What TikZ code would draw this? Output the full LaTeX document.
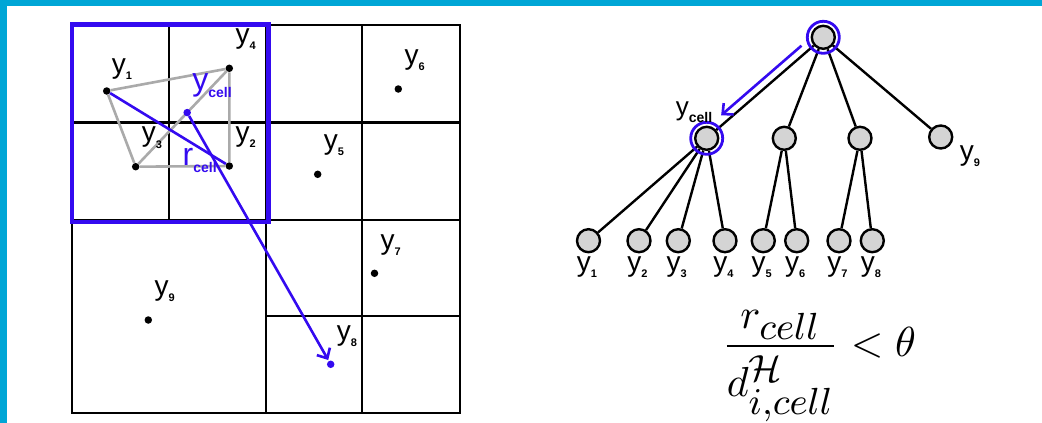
\documentclass[tikz,border=0pt]{standalone}
\usepackage{fontspec}
\setsansfont{Liberation Sans}
\usepackage{graphicx}
\usetikzlibrary{positioning,arrows.meta,calc}
\DeclareMathSizes{10}{10}{9}{7}
\definecolor{frame}{RGB}{0,166,214}
\definecolor{vio}{RGB}{52,10,240}
\definecolor{lgray}{RGB}{170,170,170}
\definecolor{nodegray}{RGB}{212,212,212}
\newcommand{\yl}[1]{y\raisebox{-6.5pt}{\fontsize{11}{11}\selectfont\bfseries #1}}
\newcommand{\yc}[1]{#1\raisebox{-7pt}{\fontsize{14}{14}\selectfont\bfseries cell}}
\tikzset{
  cellline/.style={line width=2.8pt, draw=black},
  bluebox/.style={line width=4.8pt, draw=vio},
  ptdot/.style={circle, fill=black, inner sep=0pt, minimum size=7.5pt},
  bptdot/.style={ptdot, fill=vio},
  glink/.style={line width=2.6pt, draw=lgray},
  blink/.style={line width=2.6pt, draw=vio},
  barr/.style={blink, -{Straight Barb[length=8pt,width=15pt]}},
  ylab/.style={anchor=base west, inner sep=0pt, font=\sffamily\fontsize{28}{30}\selectfont},
  tlab/.style={inner sep=0pt, font=\sffamily\fontsize{28}{30}\selectfont},
  tnode/.style={circle, draw=black, fill=nodegray, line width=2.4pt, minimum size=23pt, inner sep=0pt},
  ring/.style={circle, draw=vio, line width=2.8pt, minimum size=32pt, inner sep=0pt},
  tedge/.style={line width=2.4pt, draw=black},
}
\begin{document}
\begin{tikzpicture}[x=1pt,y=-1pt]
  % page and frame bars
  \useasboundingbox (0,0) rectangle (1042,423);
  \fill[white] (0,0) rectangle (1042,423);
  \fill[frame] (0,0) rectangle (1042,6);
  \fill[frame] (0,0) rectangle (7,423);

  % quadtree cells
  \draw[cellline] (72,25) rectangle (460,413);
  \draw[cellline] (266,25) -- (266,413) (72,220) -- (460,220);
  \draw[cellline] (169,25) -- (169,220) (72,122.5) -- (460,122.5);
  \draw[cellline] (362,25) -- (362,413) (266,316) -- (460,316);
  \draw[bluebox] (72,24.5) rectangle (268.5,222);

  % bodies
  \node[ptdot] (p1) at (106.7,91) {};
  \node[ptdot] (p2) at (229.3,166) {};
  \node[ptdot] (p3) at (135.7,166.7) {};
  \node[ptdot] (p4) at (229.3,68.3) {};
  \node[ptdot] (p5) at (317.7,174.3) {};
  \node[ptdot] (p6) at (398.3,89) {};
  \node[ptdot] (p7) at (374.5,273.3) {};
  \node[bptdot] (p8) at (330.7,364.3) {};
  \node[ptdot] (p9) at (148.3,320) {};

  \draw[glink] (p1) -- (p4) -- (p2) -- (p3) -- (p1);
  \draw[glink] (p3) -- (p4);
  \node[bptdot] (pc) at ($(p3)!0.55!(p4)$) {};
  \draw[blink] (p1) -- (p2);
  \draw[barr, shorten >=1pt] (pc) -- (p8);

  \node[ylab] (l1) at ($(p1)+(5,-18)$) {\yl{1}};
  \node[ylab] (l2) at ($(p2)+(6,-25)$) {\yl{2}};
  \node[ylab] (l3) at ($(p3)+(6,-25)$) {\yl{3}};
  \node[ylab] (l4) at ($(p4)+(6,-25)$) {\yl{4}};
  \node[ylab] (l5) at ($(p5)+(6,-25)$) {\yl{5}};
  \node[ylab] (l6) at ($(p6)+(6,-25)$) {\yl{6}};
  \node[ylab] (l7) at ($(p7)+(6,-24)$) {\yl{7}};
  \node[ylab] (l8) at ($(p8)+(6,-24)$) {\yl{8}};
  \node[ylab] (l9) at ($(p9)+(6,-25)$) {\yl{9}};
  \node[ylab, text=vio, font=\sffamily\fontsize{32}{34}\selectfont] (lc) at ($(pc)+(5,-22)$) {\yc{y}};
  \node[ylab, text=vio, font=\sffamily\fontsize{32}{34}\selectfont] (lr) at (182.5,165) {\yc{r}};

  % tree
  \node[tnode] (root) at (823.3,37.3) {};
  \node[tnode] (tc) at (706.7,138.3) {};
  \node[tnode] (t2) at (784.3,138.3) {};
  \node[tnode] (t3) at (860,138.3) {};
  \node[tnode] (t9) at (940.7,137) {};
  \foreach \n/\x in {1/588.5,2/639,3/678.3,4/725,5/763.3,6/796.7,7/839,8/872.3}
    \node[tnode] (leaf\n) at (\x,240.7) {};

  \foreach \c in {tc,t2,t3,t9}
    \draw[tedge] (root) -- (\c);
  \foreach \n in {1,...,4}
    \draw[tedge] (tc) -- (leaf\n);
  \draw[tedge] (t2) -- (leaf5) (t2) -- (leaf6) (t3) -- (leaf7) (t3) -- (leaf8);

  \node[ring] (rootring) at (root) {};
  \node[ring] (tcring) at (tc) {};
  \draw[barr] ($(root)!22pt!(tc) + (-5.2,-6)$) -- ($(tc)!26pt!(root) + (-5.2,-6)$);

  \foreach \n in {1,...,8}
    \node[tlab, below=3pt of leaf\n, xshift=-1.5pt] (tl\n) {\yl{\n}};
  \node[ylab] (tl9) at ($(t9)+(19,23)$) {\yl{9}};
  \node[ylab, font=\sffamily\fontsize{26}{28}\selectfont] (tlc) at ($(tc)+(-31,-22.5)$) {\yc{y}};

  % opening criterion
  \node (crit) at (819,366) {\scalebox{4.2}{$\displaystyle\frac{r_{cell}}{\rule{0pt}{10.5pt}d^{\mathcal{H}}_{i,cell}} < \theta$}};
\end{tikzpicture}
\end{document}
